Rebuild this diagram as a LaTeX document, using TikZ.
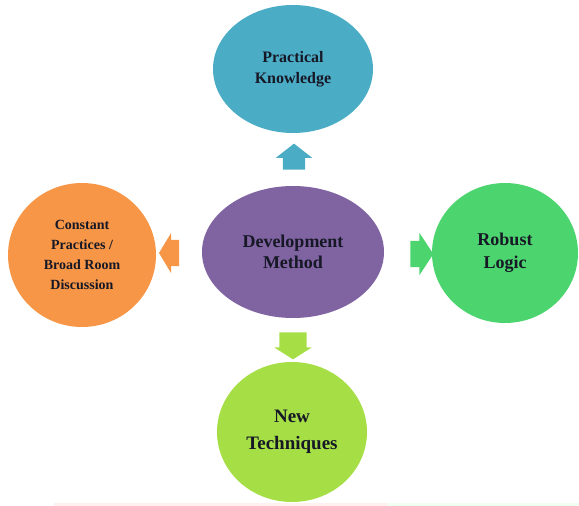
\documentclass[tikz,border=0pt]{standalone}
\usepackage{fontspec}
\setmainfont{Liberation Serif}
\usetikzlibrary{shapes.geometric,shapes.arrows}
\definecolor{pkblue}{RGB}{75,172,198}
\definecolor{dmpurple}{RGB}{128,100,162}
\definecolor{cporange}{RGB}{247,150,70}
\definecolor{rlgreen}{RGB}{76,212,110}
\definecolor{ntlime}{RGB}{166,222,70}
\definecolor{txtdark}{RGB}{22,24,38}
\begin{document}
\begin{tikzpicture}[x=1pt, y=-1pt,
  blob/.style={ellipse, inner sep=0pt, align=center, text=txtdark},
  blockarrow/.style={single arrow, inner xsep=0pt, single arrow head indent=0pt}]
\useasboundingbox (0,0) rectangle (579,506);
\fill[red!6] (54,503) rectangle (388,506);
\fill[green!6] (388,503) rectangle (579,506);
\node[blob, fill=dmpurple, minimum width=182pt, minimum height=132pt, font=\fontsize{18}{21}\selectfont\bfseries] (dev) at (293,252){Development\\Method};
\node[blob, fill=pkblue, minimum width=160pt, minimum height=128pt, font=\fontsize{16}{21}\selectfont\bfseries] (prac) at (293,69){Practical\\Knowledge};
\node[blob, fill=cporange, minimum width=148pt, minimum height=144pt, font=\fontsize{14}{20}\selectfont\bfseries] (cons) at (82,255){Constant\\Practices /\\Broad Room\\Discussion};
\node[blob, fill=rlgreen, minimum width=146pt, minimum height=140pt, font=\fontsize{18}{23}\selectfont\bfseries] (rob) at (505,253){Robust\\Logic};
\node[blob, fill=ntlime, minimum width=150pt, minimum height=140pt, font=\fontsize{19}{27}\selectfont\bfseries] (tech) at (292,432){New\\Techniques};
\node[blockarrow, fill=pkblue, rotate=90, inner ysep=11pt, minimum height=26pt, single arrow head extend=7pt, single arrow tip angle=104] (aup) at (294,161){};
\node[blockarrow, fill=ntlime, rotate=-90, inner ysep=13.5pt, minimum height=27pt, single arrow head extend=5pt, single arrow tip angle=115] (adown) at (293,341.5){};
\node[blockarrow, fill=cporange, rotate=180, inner ysep=13pt, minimum height=20pt, single arrow head extend=7pt, single arrow tip angle=118] (aleft) at (173,253){};
\node[blockarrow, fill=rlgreen, inner ysep=13pt, minimum height=23pt, single arrow head extend=8pt, single arrow tip angle=113] (aright) at (417.5,254){};
\end{tikzpicture}
\end{document}
